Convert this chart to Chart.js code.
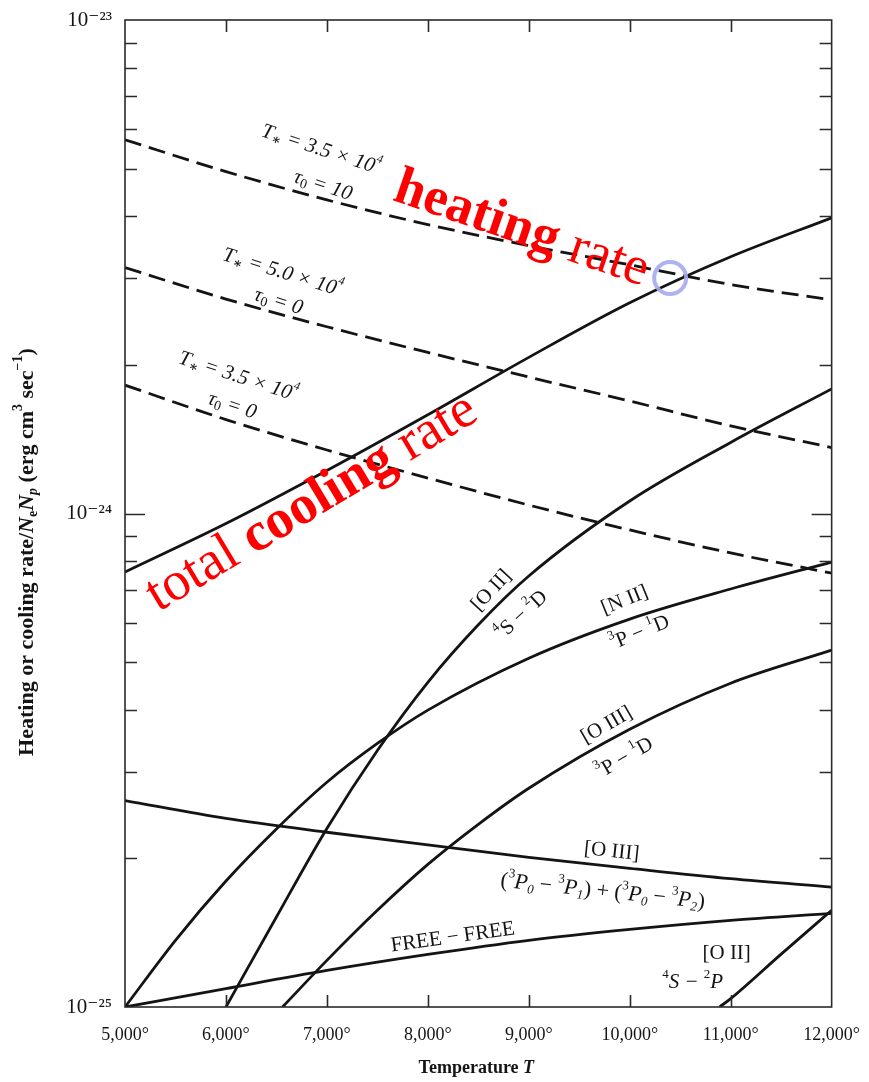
<!DOCTYPE html>
<html>
<head>
<meta charset="utf-8">
<title>Heating and cooling rates</title>
<script src="https://cdn.jsdelivr.net/npm/chart.js@4.4.0/dist/chart.umd.min.js"></script>
<style>
  html, body { margin: 0; padding: 0; background: #fff; }
  #wrap { width: 869px; height: 1082px; position: relative; }
</style>
</head>
<body>
<div id="wrap"><canvas id="c" width="869" height="1082"></canvas></div>
<script>
// ---- data (rates in erg cm^3 s^-1, temperatures in K) ----
const temps = [5000, 6000, 7000, 8000, 9000, 10000, 11000, 12000];

// heating curves
const heatT35Tau10 = [5.72e-24, 4.93e-24, 4.32e-24, 3.85e-24, 3.49e-24, 3.19e-24, 2.91e-24, 2.71e-24];
const heatT50Tau0  = [3.15e-24, 2.72e-24, 2.39e-24, 2.12e-24, 1.89e-24, 1.69e-24, 1.505e-24, 1.36e-24];
const heatT35Tau0  = [1.82e-24, 1.55e-24, 1.345e-24, 1.18e-24, 1.04e-24, 9.26e-25, 8.32e-25, 7.57e-25];

// cooling curves
const totalCooling = [7.61e-25, 9.54e-25, 1.222e-24, 1.585e-24, 2.072e-24, 2.673e-24, 3.313e-24, 3.974e-24];
const oIIIFine     = [2.62e-25, 2.41e-25, 2.26e-25, 2.13e-25, 2.01e-25, 1.91e-25, 1.82e-25, 1.75e-25];
const freeFree     = [1.0e-25, 1.09e-25, 1.186e-25, 1.278e-25, 1.365e-25, 1.436e-25, 1.498e-25, 1.548e-25];

const nIITemps = [5000, 5500, 6000, 6500, 7000, 7500, 8000, 9000, 10000, 11000, 12000];
const nIIRate  = [1.0e-25, 1.365e-25, 1.80e-25, 2.295e-25, 2.854e-25, 3.42e-25, 3.995e-25, 5.09e-25, 6.11e-25, 7.03e-25, 7.97e-25];

const oII2DTemps = [6000, 6500, 7000, 7500, 8000, 8500, 9000, 10000, 11000, 12000];
const oII2DRate  = [1.0e-25, 1.522e-25, 2.30e-25, 3.31e-25, 4.55e-25, 5.95e-25, 7.47e-25, 1.06e-24, 1.393e-24, 1.788e-24];

const oIII1DTemps = [6560, 7000, 7500, 8000, 8500, 9000, 10000, 11000, 12000];
const oIII1DRate  = [1.0e-25, 1.243e-25, 1.57e-25, 1.945e-25, 2.345e-25, 2.775e-25, 3.655e-25, 4.53e-25, 5.285e-25];

const oII2PTemps = [10890, 11000, 11500, 12000];
const oII2PRate  = [1.0e-25, 1.04e-25, 1.28e-25, 1.57e-25];

// axis ticks
const xTickValues = [5000, 6000, 7000, 8000, 9000, 10000, 11000, 12000];
const xTickLabels = ['5,000°', '6,000°', '7,000°', '8,000°', '9,000°', '10,000°', '11,000°', '12,000°'];
const yTickValues = [1e-25, 2e-25, 3e-25, 4e-25, 5e-25, 6e-25, 7e-25, 8e-25, 9e-25,
                     1e-24, 2e-24, 3e-24, 4e-24, 5e-24, 6e-24, 7e-24, 8e-24, 9e-24, 1e-23];
const yDecades = [-25, -24, -23];
const yDecadeLabels = ['10⁻²⁵', '10⁻²⁴', '10⁻²³'];

// ---- helpers ----
const SERIF = '"Liberation Serif", "Times New Roman", "DejaVu Serif", serif';
const font = (size, style = '') => `${style} ${size}px ${SERIF}`.trim();
const INK = '#141414';
const RED = '#ff0000';

const pts = (xs, ys) => xs.map((x, i) => ({ x, y: ys[i] }));
const solid  = (data) => ({ data, borderColor: INK, borderWidth: 2.8, pointRadius: 0, cubicInterpolationMode: 'monotone' });
const dashed = (data) => ({ data, borderColor: INK, borderWidth: 2.8, borderDash: [17, 8], pointRadius: 0, cubicInterpolationMode: 'monotone' });

// draws a run of differently styled text pieces, rotated about an anchor
function drawRich(ctx, segs, x, y, angleDeg, color, anchor = 'center') {
  ctx.save();
  ctx.translate(x, y);
  ctx.rotate(angleDeg * Math.PI / 180);
  let total = 0;
  segs.forEach(s => { ctx.font = s.f; s.w = ctx.measureText(s.t).width; total += s.w; });
  let cx = anchor === 'center' ? -total / 2 : 0;
  ctx.textBaseline = anchor === 'center' ? 'middle' : 'alphabetic';
  ctx.textAlign = 'left';
  segs.forEach(s => {
    ctx.font = s.f;
    ctx.fillStyle = s.c || color;
    ctx.fillText(s.t, cx, s.dy || 0);
    cx += s.w;
  });
  ctx.restore();
}

const LBL = 21;   // size of the curve labels

// curve annotations, positioned by temperature and log10(rate)
const annotations = [
  { at: [6940, -23.263], a: 18, segs: () => starLabel('3.5') },
  { at: [6960, -23.336], a: 18, segs: () => tauLabel('10') },
  { at: [6560, -23.512], a: 17, segs: () => starLabel('5.0') },
  { at: [6520, -23.571], a: 17, segs: () => tauLabel('0') },
  { at: [6120, -23.723], a: 18, segs: () => starLabel('3.5') },
  { at: [6060, -23.782], a: 18, segs: () => tauLabel('0') },
  { at: [8630, -24.156], a: -47, segs: () => [{ t: '[O II]', f: font(LBL) }] },
  { at: [8930, -24.206], a: -42, segs: () => termLabel('4', 'S', '2', 'D', '') },
  { at: [9950, -24.176], a: -22, segs: () => [{ t: '[N II]', f: font(LBL) }] },
  { at: [10100, -24.242], a: -22, segs: () => termLabel('3', 'P', '1', 'D', '') },
  { at: [9772, -24.429], a: -30, segs: () => [{ t: '[O III]', f: font(LBL) }] },
  { at: [9950, -24.496], a: -30, segs: () => termLabel('3', 'P', '1', 'D', '') },
  { at: [9821, -24.685], a: 6, segs: () => [{ t: '[O III]', f: font(LBL) }] },
  { at: [9732, -24.766], a: 6, segs: () => fineLabel() },
  { at: [8247, -24.859], a: -8, segs: () => [{ t: 'FREE − FREE', f: font(21) }] },
  { at: [10960, -24.891], a: 0, segs: () => [{ t: '[O II]', f: font(LBL) }] },
  { at: [10623, -24.951], a: 0, segs: () => termLabel('4', 'S', '2', 'P', 'italic') }
];

function starLabel(v) {
  return [
    { t: 'T', f: font(21, 'italic') },
    { t: '∗', f: font(14, 'bold'), dy: 5 },
    { t: ' = ' + v + ' × 10', f: font(21, 'italic') },
    { t: '4', f: font(12, 'italic'), dy: -9 }
  ];
}
function tauLabel(v) {
  return [
    { t: 'τ', f: font(21, 'italic') },
    { t: '0', f: font(14), dy: 5 },
    { t: ' = ' + v, f: font(21, 'italic') }
  ];
}
function termLabel(m1, l1, m2, l2, st) {
  return [
    { t: m1, f: font(13), dy: -8 },
    { t: l1 + ' − ', f: font(21, st) },
    { t: m2, f: font(13), dy: -8 },
    { t: l2, f: font(21, st) }
  ];
}
function fineLabel() {
  const big = font(22, 'italic'), up = font(13), sub = font(13, 'italic'), rom = font(22);
  return [
    { t: '(', f: rom }, { t: '3', f: up, dy: -8 }, { t: 'P', f: big }, { t: '0', f: sub, dy: 6 },
    { t: ' − ', f: rom }, { t: '3', f: up, dy: -8 }, { t: 'P', f: big }, { t: '1', f: sub, dy: 6 },
    { t: ') + (', f: rom }, { t: '3', f: up, dy: -8 }, { t: 'P', f: big }, { t: '0', f: sub, dy: 6 },
    { t: ' − ', f: rom }, { t: '3', f: up, dy: -8 }, { t: 'P', f: big }, { t: '2', f: sub, dy: 6 },
    { t: ')', f: rom }
  ];
}

const isDecade = v => Math.abs(Math.log10(v) - Math.round(Math.log10(v))) < 1e-6;

// frame, inward tick marks, titles and curve labels
const framePlugin = {
  id: 'frame',
  afterDraw(chart) {
    const { ctx, chartArea: ca, scales: { x, y } } = chart;
    ctx.save();
    ctx.strokeStyle = '#2a2a2a';
    ctx.lineWidth = 1.6;
    ctx.strokeRect(ca.left, ca.top, ca.right - ca.left, ca.bottom - ca.top);

    ctx.beginPath();
    x.ticks.forEach(t => {
      if (t.value <= x.min || t.value >= x.max) return;
      const px = Math.round(x.getPixelForValue(t.value)) + 0.5;
      ctx.moveTo(px, ca.bottom); ctx.lineTo(px, ca.bottom - 12);
      ctx.moveTo(px, ca.top); ctx.lineTo(px, ca.top + 12);
    });
    y.ticks.forEach(t => {
      if (t.value <= y.min * 1.0001 || t.value >= y.max * 0.9999) return;
      const py = Math.round(y.getPixelForValue(t.value)) + 0.5;
      const len = isDecade(t.value) ? 20 : 12;
      ctx.moveTo(ca.left, py); ctx.lineTo(ca.left + len, py);
      ctx.moveTo(ca.right, py); ctx.lineTo(ca.right - len, py);
    });
    ctx.stroke();

    // marker at the crossing of heating and total cooling
    ctx.beginPath();
    ctx.strokeStyle = 'rgba(165,170,240,0.9)';
    ctx.lineWidth = 4;
    ctx.arc(x.getPixelForValue(10400), y.getPixelForValue(3.0e-24), 16, 0, Math.PI * 2);
    ctx.stroke();

    // curve labels
    annotations.forEach(an => {
      const px = x.getPixelForValue(an.at[0]);
      const py = y.getPixelForValue(Math.pow(10, an.at[1]));
      drawRich(ctx, an.segs(), px, py, an.a, INK);
    });

    // red headline labels
    drawRich(ctx, [
      { t: 'heating', f: font(54, 'bold') },
      { t: ' rate', f: font(54) }
    ], x.getPixelForValue(7640), y.getPixelForValue(Math.pow(10, -23.364)), 19, RED, 'start');
    drawRich(ctx, [
      { t: 'total ', f: font(55) },
      { t: 'cooling', f: font(55, 'bold') },
      { t: ' rate', f: font(55) }
    ], x.getPixelForValue(5330), y.getPixelForValue(Math.pow(10, -24.2)), -31, RED, 'start');

    // axis titles
    drawRich(ctx, [
      { t: 'Temperature ', f: font(18, 'bold') },
      { t: 'T', f: font(18, 'bold italic') }
    ], (ca.left + ca.right) / 2 - 2, 1068, 0, INK);
    const tb = font(22, 'bold'), ti = font(22, 'bold italic'), ts = font(14, 'bold');
    drawRich(ctx, [
      { t: 'Heating or cooling rate/', f: tb },
      { t: 'N', f: ti }, { t: 'e', f: ts, dy: 6 },
      { t: 'N', f: ti }, { t: 'p', f: font(14, 'bold italic'), dy: 6 },
      { t: ' (erg cm', f: tb }, { t: '3', f: ts, dy: -9 },
      { t: ' sec', f: tb }, { t: '−1', f: ts, dy: -9 },
      { t: ')', f: tb }
    ], 27, 552, -90, INK);
    ctx.restore();
  }
};

new Chart(document.getElementById('c'), {
  type: 'line',
  data: {
    datasets: [
      dashed(pts(temps, heatT35Tau10)),
      dashed(pts(temps, heatT50Tau0)),
      dashed(pts(temps, heatT35Tau0)),
      solid(pts(temps, totalCooling)),
      solid(pts(oII2DTemps, oII2DRate)),
      solid(pts(nIITemps, nIIRate)),
      solid(pts(oIII1DTemps, oIII1DRate)),
      solid(pts(temps, oIIIFine)),
      solid(pts(temps, freeFree)),
      solid(pts(oII2PTemps, oII2PRate))
    ]
  },
  options: {
    responsive: false,
    animation: false,
    devicePixelRatio: 1,
    layout: { padding: { top: 20, right: 37, left: 0, bottom: 0 } },
    plugins: { legend: { display: false }, tooltip: { enabled: false } },
    scales: {
      x: {
        type: 'linear', min: 5000, max: 12000,
        grid: { display: false }, border: { display: false },
        afterBuildTicks: s => { s.ticks = xTickValues.map(v => ({ value: v })); },
        afterFit: s => { s.height = 75; },
        ticks: {
          autoSkip: false, maxRotation: 0, padding: 9, color: INK,
          font: { family: SERIF, size: 18 },
          callback: v => xTickLabels[xTickValues.indexOf(v)] ?? ''
        }
      },
      y: {
        type: 'logarithmic', min: 1e-25, max: 1e-23,
        grid: { display: false }, border: { display: false },
        afterBuildTicks: s => { s.ticks = yTickValues.map(v => ({ value: v })); },
        afterFit: s => { s.width = 125; },
        ticks: {
          autoSkip: false, padding: 5, color: INK,
          font: { family: SERIF, size: 21 },
          callback: v => {
            if (!isDecade(v)) return '';
            return yDecadeLabels[yDecades.indexOf(Math.round(Math.log10(v)))];
          }
        }
      }
    }
  },
  plugins: [framePlugin]
});
</script>
</body>
</html>
